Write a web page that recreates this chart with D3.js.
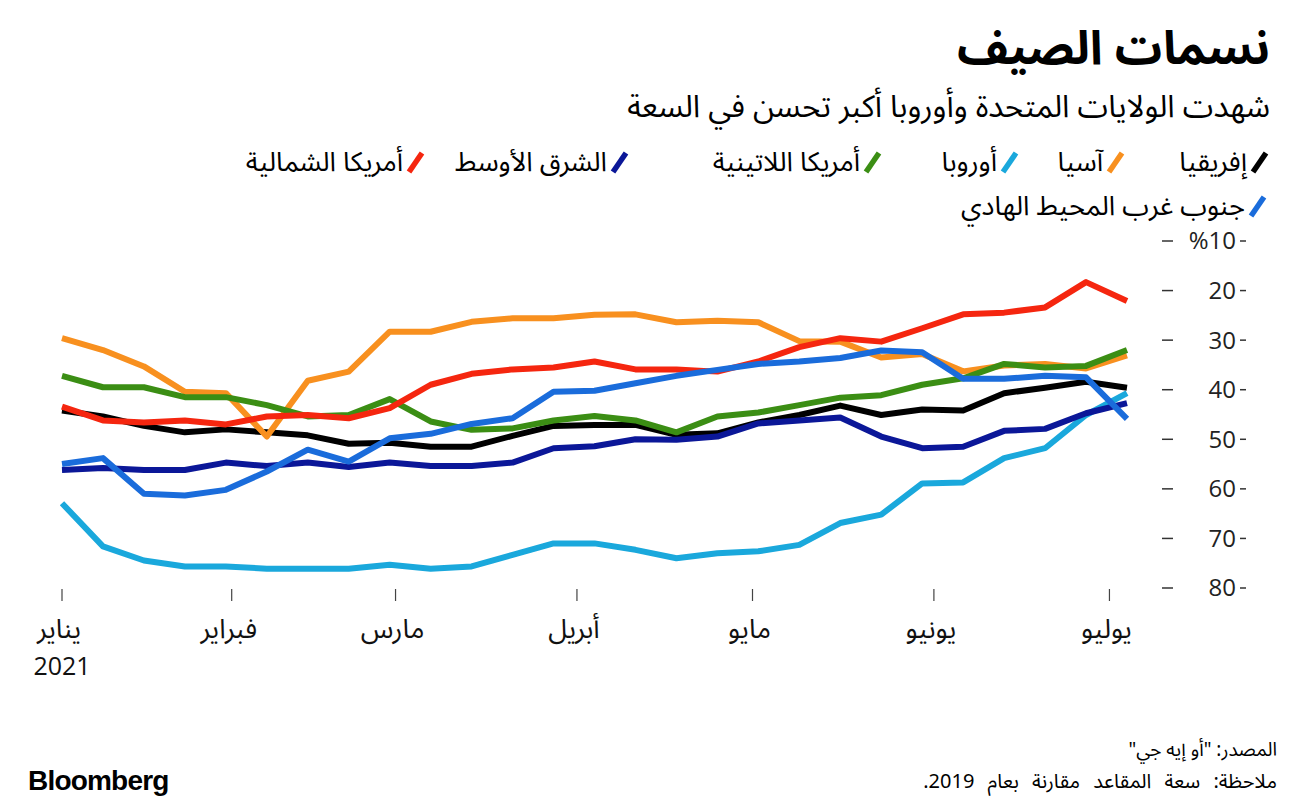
<!DOCTYPE html>
<html lang="ar">
<head>
<meta charset="utf-8">
<script src="https://cdn.jsdelivr.net/npm/d3@7/dist/d3.min.js"></script>
<style>
  html, body { margin: 0; padding: 0; background: #fff; }
  svg { display: block; }
  .ar { font-family: "Noto Sans Arabic", "DejaVu Sans Condensed", "DejaVu Sans", sans-serif; }
  .num { font-family: "Open Sans", "Noto Sans", sans-serif; }
</style>
</head>
<body>
<svg id="chart" width="1297" height="807"></svg>
<script>
// ---------- data ----------
const dates = ["2021-01-03","2021-01-10","2021-01-17","2021-01-24","2021-01-31",
  "2021-02-07","2021-02-14","2021-02-21","2021-02-28",
  "2021-03-07","2021-03-14","2021-03-21","2021-03-28",
  "2021-04-04","2021-04-11","2021-04-18","2021-04-25",
  "2021-05-02","2021-05-09","2021-05-16","2021-05-23","2021-05-30",
  "2021-06-06","2021-06-13","2021-06-20","2021-06-27",
  "2021-07-04"];

const seriesNames = ["إفريقيا","آسيا","أوروبا","أمريكا اللاتينية","الشرق الأوسط","أمريكا الشمالية","جنوب غرب المحيط الهادي"];

const africa = [44.2,45.4,47.3,48.6,48.0,48.6,49.2,50.9,50.7,51.5,51.5,49.3,47.3,47.1,47.1,49.1,48.8,46.6,45.1,43.2,45.1,44.0,44.2,40.7,39.6,38.4,39.6];
const asia = [29.6,32.0,35.3,40.4,40.7,49.45,38.2,36.35,28.3,28.3,26.3,25.6,25.6,24.9,24.8,26.4,26.1,26.4,30.2,30.3,33.5,32.8,36.3,35.1,34.8,35.7,33.1];
const europe = [62.9,71.6,74.45,75.65,75.65,76.1,76.1,76.1,75.3,76.1,75.65,73.3,71.0,71.0,72.3,74.0,73.0,72.6,71.3,66.9,65.2,58.9,58.7,53.8,51.8,45.1,40.7];
const latinAmerica = [37.2,39.5,39.5,41.5,41.5,43.1,45.4,45.1,41.9,46.4,48.1,47.8,46.2,45.3,46.2,48.6,45.4,44.6,43.1,41.6,41.1,39.0,37.7,34.8,35.5,35.2,32.0];
const middleEast = [56.2,55.8,56.2,56.2,54.7,55.4,54.7,55.6,54.7,55.4,55.4,54.7,51.8,51.4,50.0,50.1,49.45,46.8,46.2,45.6,49.45,51.8,51.5,48.3,47.9,44.75,42.7];
const northAmerica = [43.4,46.2,46.6,46.2,47.0,45.4,45.1,45.75,43.7,39.0,36.8,35.9,35.5,34.3,35.9,35.9,36.35,34.3,31.4,29.6,30.3,27.6,24.8,24.45,23.4,18.3,22.1];
const swPacific = [55.0,53.8,61.0,61.35,60.2,56.5,52.1,54.5,49.8,48.9,46.9,45.75,40.4,40.2,38.7,37.2,36.0,34.8,34.3,33.6,32.1,32.45,37.8,37.8,37.2,37.5,45.9];

const monthTickDates = ["2021-01-03","2021-02-01","2021-03-01","2021-04-01","2021-05-01","2021-06-01","2021-07-01"];
const monthLabels = ["يناير","فبراير","مارس","أبريل","مايو","يونيو","يوليو"];
const yearLabel = "2021";
const yTicks = [10,20,30,40,50,60,70,80];

const titleText = "نسمات الصيف";
const subtitleText = "شهدت الولايات المتحدة وأوروبا أكبر تحسن في السعة";
const sourceText = "المصدر: \"أو إيه جي\"";
const noteText = "ملاحظة: سعة المقاعد مقارنة بعام 2019.";

// ---------- styling / layout ----------
const colors = ["#000000","#f8901f","#1aa8dc","#3b8e14","#0b1798","#f5260f","#1a6cdb"];
const legendAnchors = [[1272,162],[1128,162],[1022,162],[885,162],[632,162],[428,162],[1270,206]];

const parse = d3.utcParse("%Y-%m-%d");
const xDates = dates.map(parse);
const allSeries = [africa, asia, europe, latinAmerica, middleEast, northAmerica, swPacific];

const svg = d3.select("#chart");

const x = d3.scaleUtc().domain(d3.extent(xDates)).range([62, 1127]);
const y = d3.scaleLinear().domain([10, 80]).range([241, 588]);

// Title
svg.append("text").attr("class","ar")
  .attr("x", 1270).attr("y", 64).attr("direction","rtl").attr("text-anchor","start")
  .attr("font-size", 47).attr("font-weight", 700).attr("fill","#000")
  .text(titleText);
svg.append("text").attr("class","ar")
  .attr("x", 1270).attr("y", 117).attr("direction","rtl").attr("text-anchor","start")
  .attr("font-size", 31).attr("fill","#000")
  .text(subtitleText);

// Legend
const legend = svg.append("g");
seriesNames.forEach((name, i) => {
  const [ax, ay] = legendAnchors[i];
  legend.append("line")
    .attr("x1", ax - 19).attr("y1", ay + 10)
    .attr("x2", ax - 6).attr("y2", ay - 9)
    .attr("stroke", colors[i]).attr("stroke-width", 5.5);
  legend.append("text").attr("class","ar")
    .attr("x", ax - 25).attr("y", ay).attr("dy","0.35em")
    .attr("direction","rtl").attr("text-anchor","start")
    .attr("font-size", 27).attr("fill","#000")
    .text(name);
});

// Y axis (right)
const yAxis = svg.append("g");
yTicks.forEach(t => {
  const g = yAxis.append("g").attr("transform", `translate(0,${y(t)})`);
  g.append("line").attr("x1", 1162).attr("x2", 1173).attr("stroke", "#333").attr("stroke-width", 1.5);
  g.append("line").attr("x1", 1240).attr("x2", 1246).attr("stroke", "#333").attr("stroke-width", 1.5);
  g.append("text").attr("class","num")
    .attr("x", 1236).attr("y", 0).attr("dy","0.35em")
    .attr("text-anchor","end").attr("font-size", 24).attr("fill","#222")
    .text(t === 10 ? "%" + t : t);
});

// X axis
const xTicks = monthTickDates.map(parse);
const xAxis = svg.append("g");
xTicks.forEach((d, i) => {
  const px = x(d);
  xAxis.append("line").attr("x1", px).attr("x2", px).attr("y1", 589).attr("y2", 601)
    .attr("stroke","#444").attr("stroke-width", 1.2);
  xAxis.append("text").attr("class","ar")
    .attr("x", px - 3).attr("y", 629).attr("dy","0.35em")
    .attr("text-anchor","middle").attr("font-size", 27).attr("fill","#111")
    .text(monthLabels[i]);
});
xAxis.append("text").attr("class","num")
  .attr("x", x(xTicks[0])).attr("y", 666).attr("dy","0.35em")
  .attr("text-anchor","middle").attr("font-size", 25).attr("fill","#111")
  .text(yearLabel);

// Lines
const line = d3.line().x((d, i) => x(xDates[i])).y(d => y(d)).curve(d3.curveLinear);
const linesG = svg.append("g");
allSeries.forEach((s, i) => {
  linesG.append("path").datum(s)
    .attr("d", line)
    .attr("fill","none")
    .attr("stroke", colors[i])
    .attr("stroke-width", 6)
    .attr("stroke-linejoin","round")
    .attr("stroke-linecap","butt");
});

// Footer
svg.append("text").attr("class","ar")
  .attr("x", 1277).attr("y", 749).attr("dy","0.35em")
  .attr("direction","rtl").attr("text-anchor","start")
  .attr("font-size", 19).attr("fill","#000")
  .text(sourceText);
svg.append("text").attr("class","ar")
  .attr("x", 1277).attr("y", 781).attr("dy","0.35em")
  .attr("direction","rtl").attr("text-anchor","start")
  .attr("font-size", 20).attr("word-spacing", 8).attr("fill","#000")
  .text(noteText);
svg.append("text")
  .attr("x", 28).attr("y", 780).attr("dy","0.35em")
  .attr("font-family","'Liberation Sans', Arial, sans-serif")
  .attr("font-weight", 700).attr("font-size", 28).attr("letter-spacing", -0.8)
  .attr("fill","#000")
  .text("Bloomberg");
</script>
</body>
</html>
